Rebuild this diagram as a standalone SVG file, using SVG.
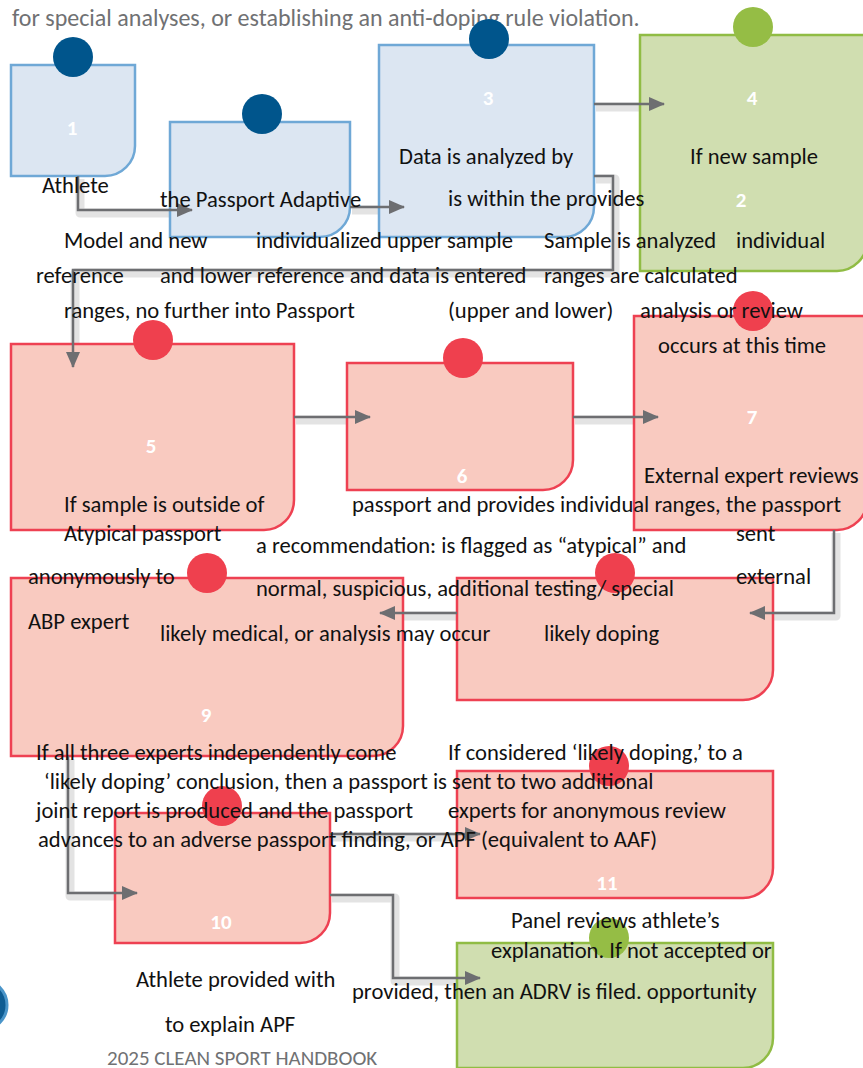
<svg xmlns="http://www.w3.org/2000/svg" width="863" height="1068" viewBox="0 0 863 1068">
<style>
.t{font-family:Carlito,Lato,"Liberation Sans",sans-serif;font-size:22.6px;fill:#111}
.g{font-family:Carlito,Lato,"Liberation Sans",sans-serif;fill:#707173}
.n{font-family:Carlito,Lato,"Liberation Sans",sans-serif;font-size:21px;font-weight:bold;fill:#fff;text-anchor:middle}
.blue{fill:#DCE6F2;stroke:#6FA8D6;stroke-width:2.5}
.green{fill:#D0DEB0;stroke:#90BC44;stroke-width:2.5}
.red{fill:#F9CAC0;stroke:#EE4152;stroke-width:2.5}
.cb{fill:#00558C}.cg{fill:#95BD45}.cr{fill:#EF404E}
.halo{fill:none;stroke:#E3E3E3;stroke-width:9;stroke-linejoin:round}
.ln{fill:none;stroke:#6D6E71;stroke-width:2.5;marker-end:url(#ah)}
</style>
<defs>
<marker id="ah" markerUnits="userSpaceOnUse" markerWidth="16" markerHeight="14" refX="15" refY="7" orient="auto">
<path d="M0,0 L16,7 L0,14 Z" fill="#6D6E71"/>
</marker>
</defs>
<rect width="863" height="1068" fill="#fff"/>
<text class="g" x="12" y="26" style="font-size:24px">for special analyses, or establishing an anti-doping rule violation.</text>

<g id="connector-halos" transform="translate(2,3)">
<path class="halo" d="M78,176 V210 H178"/>
<path class="halo" d="M350,207 H390"/>
<path class="halo" d="M594,104 H650"/>
<path class="halo" d="M594,176 H613 V270 H73 V352"/>
<path class="halo" d="M294,417 H356"/>
<path class="halo" d="M573,417 H644"/>
<path class="halo" d="M834,530 V613 H764"/>
<path class="halo" d="M457,613 H394"/>
<path class="halo" d="M68,756 V893 H123"/>
<path class="halo" d="M330,834 H466"/>
<path class="halo" d="M330,895 H393 V978 H466"/>
</g>

<g id="node1"><path class="blue" d="M11,65 H135 V146 A30,30 0 0 1 105,176 H11 Z"/><circle class="cb" cx="73" cy="57" r="20"/><text class="n" x="72" y="135">1</text></g>
<g id="node2"><path class="blue" d="M170,122 H350 V207 A30,30 0 0 1 320,237 H170 Z"/><circle class="cb" cx="262" cy="114" r="20"/></g>
<g id="node3"><path class="blue" d="M379,45 H594 V207 A30,30 0 0 1 564,237 H379 Z"/><circle class="cb" cx="489" cy="39" r="20"/><text class="n" x="488" y="105">3</text></g>
<g id="node4"><path class="green" d="M640,35 H867 V241 A30,30 0 0 1 837,271 H640 Z"/><circle class="cg" cx="753" cy="27" r="20"/><text class="n" x="752" y="105">4</text><text class="n" x="741" y="207">2</text></g>
<g id="node5"><path class="red" d="M11,344 H294 V500 A30,30 0 0 1 264,530 H11 Z"/><circle class="cr" cx="153" cy="340" r="20"/><text class="n" x="151" y="453">5</text></g>
<g id="node6"><path class="red" d="M347,363 H573 V460 A30,30 0 0 1 543,490 H347 Z"/><circle class="cr" cx="463" cy="358" r="20"/><text class="n" x="462" y="483">6</text></g>
<g id="node7"><path class="red" d="M634,316 H867 V500 A30,30 0 0 1 837,530 H634 Z"/><circle class="cr" cx="753" cy="311" r="20"/><text class="n" x="752" y="424">7</text></g>
<g id="node8"><path class="red" d="M457,578 H773 V670 A30,30 0 0 1 743,700 H457 Z"/><circle class="cr" cx="615" cy="573" r="20"/></g>
<g id="node9"><path class="red" d="M11,578 H403 V726 A30,30 0 0 1 373,756 H11 Z"/><circle class="cr" cx="207" cy="573" r="20"/><text class="n" x="206" y="722">9</text></g>
<g id="node10"><path class="red" d="M115,813 H330 V913 A30,30 0 0 1 300,943 H115 Z"/><circle class="cr" cx="222" cy="806" r="20"/><text class="n" x="221" y="929">10</text></g>
<g id="node11"><path class="red" d="M457,771 H773 V868 A30,30 0 0 1 743,898 H457 Z"/><circle class="cr" cx="609" cy="766" r="20"/><text class="n" x="607" y="890">11</text></g>
<g id="node12"><path class="green" d="M457,943 H773 V1038 A30,30 0 0 1 743,1068 H457 Z"/><circle class="cg" cx="609" cy="938" r="20"/></g>
<g id="badge"><circle cx="-18" cy="1005" r="25" fill="#0E5C92" stroke="#4A95C9" stroke-width="3"/></g>

<g id="connectors">
<path class="ln" d="M78,176 V210 H192"/>
<path class="ln" d="M350,207 H404"/>
<path class="ln" d="M594,104 H664"/>
<path class="ln" d="M594,176 H613 V270 H73 V367"/>
<path class="ln" d="M294,417 H370"/>
<path class="ln" d="M573,417 H658"/>
<path class="ln" d="M834,530 V613 H750"/>
<path class="ln" d="M457,613 H380"/>
<path class="ln" d="M68,756 V893 H137"/>
<path class="ln" d="M330,834 H480"/>
<path class="ln" d="M330,895 H393 V978 H480"/>
</g>

<g id="labels">
<text class="t" x="42" y="193">Athlete</text>
<text class="t" x="160" y="207">the Passport Adaptive</text>
<text class="t" x="399" y="164">Data is analyzed by</text>
<text class="t" x="690" y="164">If new sample</text>
<text class="t" x="448" y="206">is within the provides</text>
<text class="t" x="64" y="248">Model and new</text>
<text class="t" x="256" y="248">individualized upper sample</text>
<text class="t" x="544" y="248">Sample is analyzed</text>
<text class="t" x="736" y="248">individual</text>
<text class="t" x="36" y="283">reference</text>
<text class="t" x="160" y="283">and lower reference and data is entered</text>
<text class="t" x="544" y="283">ranges are calculated</text>
<text class="t" x="64" y="318">ranges, no further into Passport</text>
<text class="t" x="448" y="318">(upper and lower)</text>
<text class="t" x="640" y="318">analysis or review</text>
<text class="t" x="658" y="353">occurs at this time</text>
<text class="t" x="644" y="483">External expert reviews</text>
<text class="t" x="64" y="512">If sample is outside of</text>
<text class="t" x="352" y="512">passport and provides individual ranges, the passport</text>
<text class="t" x="64" y="541">Atypical passport</text>
<text class="t" x="256" y="553">a recommendation: is flagged as “atypical” and</text>
<text class="t" x="736" y="541">sent</text>
<text class="t" x="28" y="584">anonymously to</text>
<text class="t" x="256" y="596">normal, suspicious, additional testing/ special</text>
<text class="t" x="736" y="584">external</text>
<text class="t" x="28" y="629">ABP expert</text>
<text class="t" x="160" y="641">likely medical, or  analysis may occur</text>
<text class="t" x="544" y="641">likely doping</text>
<text class="t" x="36" y="760">If all three experts independently come</text>
<text class="t" x="448" y="760">If considered ‘likely doping,’  to a</text>
<text class="t" x="44" y="789">‘likely doping’ conclusion, then a  passport is sent to two additional</text>
<text class="t" x="36" y="818">joint report is produced and the passport</text>
<text class="t" x="448" y="818">experts for anonymous review</text>
<text class="t" x="38" y="847">advances to an adverse passport finding, or APF (equivalent to AAF)</text>
<text class="t" x="511" y="928">Panel reviews athlete’s</text>
<text class="t" x="491" y="958">explanation. If not accepted or</text>
<text class="t" x="136" y="987">Athlete provided with</text>
<text class="t" x="352" y="999">provided, then an ADRV is filed. opportunity</text>
<text class="t" x="165" y="1032">to explain APF</text>
</g>
<text class="g" x="107" y="1065" style="font-size:21px">2025 CLEAN SPORT HANDBOOK</text>
</svg>
